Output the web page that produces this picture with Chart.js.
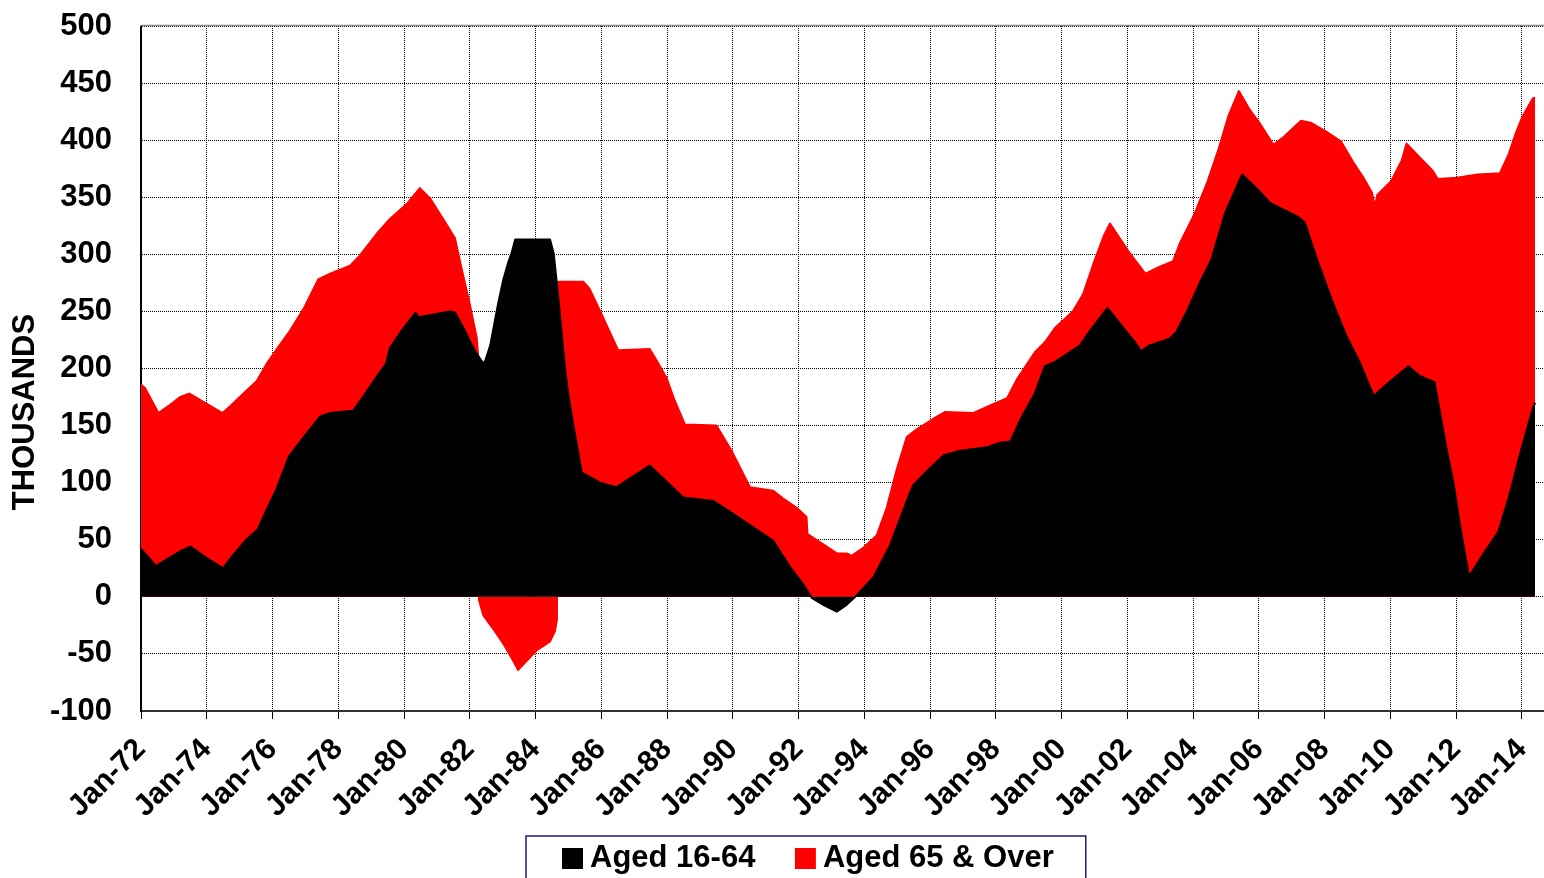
<!DOCTYPE html>
<html>
<head>
<meta charset="utf-8">
<script src="https://cdn.jsdelivr.net/npm/chart.js@4.4.0/dist/chart.umd.min.js"></script>
<style>
html,body{margin:0;padding:0;background:#fff;}
#wrap{width:1544px;height:878px;position:relative;}
</style>
</head>
<body>
<div id="wrap"><canvas id="c" width="1544" height="878"></canvas></div>
<script>
// ---- data ----
const seriesNames = ['Aged 16-64', 'Aged 65 & Over'];
const yAxisTitle = 'THOUSANDS';
const tickYears = [1972,1974,1976,1978,1980,1982,1984,1986,1988,1990,1992,1994,1996,1998,2000,2002,2004,2006,2008,2010,2012,2014];
const tickLabels = ['Jan-72','Jan-74','Jan-76','Jan-78','Jan-80','Jan-82','Jan-84','Jan-86','Jan-88','Jan-90','Jan-92','Jan-94','Jan-96','Jan-98','Jan-00','Jan-02','Jan-04','Jan-06','Jan-08','Jan-10','Jan-12','Jan-14'];

const datesAged16to64 = [1972.00,1972.45,1973.20,1973.50,1974.00,1974.50,1974.70,1975.20,1975.55,1975.80,1976.10,1976.50,1976.95,1977.45,1977.75,1978.45,1978.75,1979.15,1979.45,1979.57,1979.90,1980.35,1980.43,1981.40,1981.55,1981.80,1982.16,1982.40,1982.46,1982.62,1982.77,1982.87,1983.02,1983.17,1983.27,1983.38,1984.44,1984.55,1984.65,1984.75,1984.90,1985.00,1985.15,1985.30,1985.40,1985.96,1986.45,1987.47,1988.49,1989.40,1990.00,1990.72,1991.23,1991.74,1992.14,1992.40,1992.75,1993.16,1993.46,1993.72,1994.27,1994.78,1995.29,1995.49,1995.90,1996.41,1996.91,1997.73,1998.13,1998.44,1998.76,1999.18,1999.49,1999.81,2000.55,2000.86,2001.39,2001.81,2002.23,2002.42,2002.65,2003.28,2003.49,2003.86,2004.23,2004.55,2004.97,2005.49,2006.02,2006.34,2006.76,2007.18,2007.39,2007.81,2008.23,2008.65,2009.07,2009.49,2009.92,2010.55,2010.86,2011.34,2011.44,2011.71,2011.92,2012.13,2012.39,2012.86,2013.28,2013.60,2013.92,2014.34,2014.40];
const valuesAged16to64 = [42,27,40,44,34,25,33,50,59,75,93,123,140,158,161,163,175,192,204,218,232,249,245,250,249,236,215,205,206,220,243,258,278,293,301,313,313,301,274,244,199,176,150,126,109,100,96,115,87,84,73,59,49,26,11,-1,-7,-13,-7,0,17,45,84,98,110,124,128,131,135,136,156,178,202,206,220,233,253,238,223,215,220,226,232,253,277,295,336,370,355,345,339,333,328,292,259,229,205,176,187,202,194,188,172,129,99,60,18,39,57,87,123,166,170];

const datesAged65Over = [1972.00,1972.12,1972.53,1972.83,1973.19,1973.47,1974.00,1974.48,1974.71,1975.11,1975.52,1975.82,1976.13,1976.53,1976.94,1977.39,1977.75,1978.36,1978.66,1979.17,1979.57,1980.08,1980.48,1980.79,1981.19,1981.55,1981.70,1982.00,1982.21,1982.26,1982.28,1982.41,1982.71,1983.02,1983.32,1983.47,1983.73,1984.03,1984.44,1984.59,1984.65,1984.67,1985.45,1985.64,1985.95,1986.51,1987.47,1987.62,1987.98,1988.23,1988.54,1989.50,1989.96,1990.52,1991.23,1991.53,1991.94,1992.24,1992.27,1992.75,1993.16,1993.46,1993.61,1993.97,1994.38,1994.68,1994.98,1995.29,1995.60,1996.10,1996.46,1997.32,1997.93,1998.34,1998.65,1999.18,1999.49,1999.81,2000.34,2000.65,2000.97,2001.28,2001.47,2002.02,2002.55,2002.97,2003.39,2003.60,2004.02,2004.44,2004.76,2005.07,2005.39,2005.71,2006.02,2006.44,2006.76,2007.28,2007.60,2008.02,2008.49,2008.86,2009.18,2009.44,2009.52,2009.60,2010.02,2010.34,2010.49,2010.92,2011.29,2011.44,2012.02,2012.65,2013.33,2013.60,2013.81,2014.02,2014.34,2014.40];
const valuesAged65Over = [186,183,161,167,175,178,169,161,167,178,189,204,217,233,252,278,283,290,299,318,331,344,358,349,331,314,294,256,227,209,-3,-16,-28,-41,-56,-64,-56,-47,-39,-30,-20,276,276,270,251,216,217,210,192,172,151,150,128,96,93,86,78,70,55,46,38,38,36,43,54,78,111,140,147,156,162,161,169,174,191,214,223,236,250,265,292,316,327,303,283,289,294,310,334,364,391,421,443,427,415,396,403,417,415,408,399,381,367,354,342,352,364,382,397,384,373,366,367,370,371,388,406,421,437,437];

const yMin = -100, yMax = 500, yStep = 50;
const xMin = 1972, xMax = 2014.67;

// ---- chart ----
const FONT = "'Liberation Sans', Arial, sans-serif";
Chart.defaults.font.family = FONT;
Chart.defaults.color = '#000';

const toPoints = (xs, ys) => xs.map((x, i) => ({x: x, y: ys[i]}));

const layoutTweaks = {
  id: 'layoutTweaks',
  afterLayout(chart) {
    const lg = chart.legend;
    if (lg && lg.lineWidths) {
      const p = lg.options.labels.padding;
      const x1 = (lg.left + p + lg.right - lg.lineWidths[0]) / 2;
      const s = 570.5 - x1;
      lg.left += s; lg.right += s;
      lg.top += 1; lg.bottom += 1;
    }
    // let rotated x labels extend below the axis box (avoid label clipping)
    const xs = chart.scales.x;
    if (xs) { xs.bottom = chart.height; }
  }
};

const decorations = {
  id: 'decorations',
  afterDraw(chart) {
    const ctx = chart.ctx, ca = chart.chartArea;
    ctx.save();
    // top frame line
    ctx.strokeStyle = '#8c8c8c';
    ctx.lineWidth = 1.5;
    ctx.beginPath();
    ctx.moveTo(ca.left - 1, ca.top - 0.5);
    ctx.lineTo(ca.right, ca.top - 0.5);
    ctx.stroke();
    // legend frame
    const lg = chart.legend;
    const hb = lg.legendHitBoxes;
    if (hb && hb.length) {
      const first = hb[0], last = hb[hb.length - 1];
      const cy = first.top + first.height / 2;
      const left = first.left - 44.5;
      const right = last.left + last.width + 32;
      ctx.strokeStyle = '#1e1e78';
      ctx.lineWidth = 1.5;
      ctx.strokeRect(left, cy - 22.5, right - left, 120);
    }
    // y axis title
    ctx.fillStyle = '#000';
    ctx.font = "bold 31px " + FONT;
    ctx.textAlign = 'center';
    ctx.textBaseline = 'middle';
    ctx.translate(25, 412);
    ctx.rotate(-Math.PI / 2);
    ctx.fillText(yAxisTitle, 0, 0);
    ctx.restore();
  }
};

new Chart(document.getElementById('c'), {
  type: 'line',
  data: {
    datasets: [
      {
        label: seriesNames[0],
        data: toPoints(datesAged16to64, valuesAged16to64),
        borderColor: '#000000',
        backgroundColor: '#000000',
        borderWidth: 2,
        borderJoinStyle: 'round',
        fill: 'origin',
        pointRadius: 0,
        tension: 0
      },
      {
        label: seriesNames[1],
        data: toPoints(datesAged65Over, valuesAged65Over),
        borderColor: '#ff0000',
        backgroundColor: '#ff0000',
        borderWidth: 2,
        borderJoinStyle: 'round',
        fill: 'origin',
        pointRadius: 0,
        tension: 0
      }
    ]
  },
  options: {
    responsive: false,
    animation: false,
    devicePixelRatio: 1,
    events: [],
    layout: { padding: { top: 26, left: 0, right: 0, bottom: -5 } },
    plugins: {
      tooltip: { enabled: false },
      title: { display: false },
      legend: {
        display: true,
        position: 'bottom',
        align: 'center',
        labels: {
          usePointStyle: true,
          pointStyle: 'rect',
          boxWidth: 4,
          boxHeight: 19,
          padding: 48,
          color: '#000',
          font: { family: FONT, size: 31, weight: 'bold', lineHeight: 1 }
        }
      }
    },
    scales: {
      x: {
        type: 'linear',
        position: 'bottom',
        min: xMin,
        max: xMax,
        afterBuildTicks: (scale) => { scale.ticks = tickYears.map(v => ({ value: v })); },
        afterFit: (scale) => { scale.height = 83; scale.paddingLeft = 0; scale.paddingRight = 0; },
        ticks: {
          autoSkip: false,
          maxRotation: 45,
          minRotation: 45,
          padding: 13,
          color: '#000',
          font: { family: FONT, size: 30, weight: 'bold' },
          callback: (value, index) => tickLabels[index]
        },
        grid: { color: '#000', lineWidth: 1, drawTicks: true, tickLength: 8, tickColor: '#000', tickBorderDash: [] },
        border: { display: true, color: '#333', width: 2, dash: [1, 1] }
      },
      y: {
        type: 'linear',
        min: yMin,
        max: yMax,
        afterFit: (scale) => { scale.width = 141; scale.paddingTop = 0; scale.paddingBottom = 0; },
        ticks: {
          stepSize: yStep,
          padding: 29,
          color: '#000',
          font: { family: FONT, size: 31, weight: 'bold' }
        },
        grid: { color: '#000', lineWidth: 1, drawTicks: false },
        border: { display: true, color: '#000', width: 2, dash: [1, 1] }
      }
    }
  },
  plugins: [layoutTweaks, decorations]
});
</script>
</body>
</html>
